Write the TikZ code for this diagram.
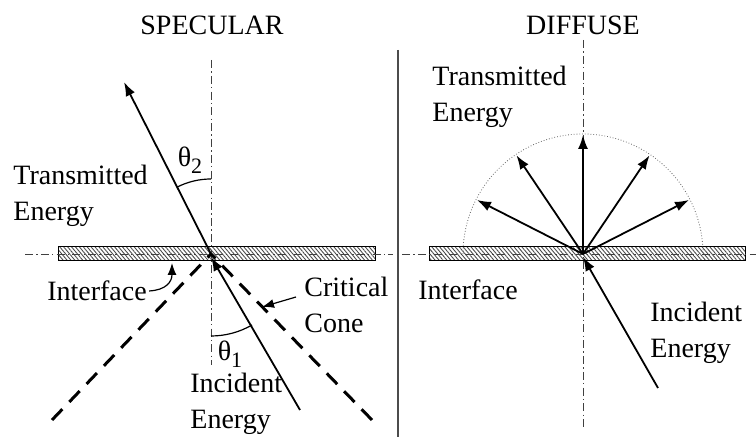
\documentclass[tikz,border=0pt]{standalone}
\usepackage{fontspec}
\setmainfont{Liberation Serif}
\usetikzlibrary{arrows.meta,positioning,patterns.meta}
\newcommand{\thetasub}[1]{θ\raisebox{-0.55ex}{\fontsize{11}{11}\selectfont #1}}
\tikzset{
  axisline/.style={black!75, line width=0.45pt, dash pattern=on 4pt off 1.6pt on 0.7pt off 1.6pt},
  ray/.style={-{Latex[length=7pt,width=5pt]}, line width=0.9pt},
  cone/.style={line width=1.5pt, dash pattern=on 7.5pt off 5pt},
  pointer/.style={-{Latex[length=6pt,width=4.5pt]}, line width=0.6pt},
  slab/.style={draw=black, line width=0.5pt, pattern={Lines[angle=-50, distance=1.5pt, line width=0.45pt]}, pattern color=black!70},
  hemi/.style={black!60, line width=0.4pt, densely dotted},
  lbl/.style={font=\fontsize{14}{18}\selectfont, inner sep=1pt},
  multilbl/.style={lbl, align=left, anchor=west}
}

\begin{document}
\begin{tikzpicture}[x=0.5pt, y=-0.5pt]
  \useasboundingbox (0,0) rectangle (756,437);

  % hit points on the interface
  \coordinate (hitL) at (211,254);
  \coordinate (hitR) at (583,254);

  % interface slabs
  \filldraw[slab] (58,247) rectangle (375,261);
  \filldraw[slab] (429,247) rectangle (745,261);

  % symmetry axes
  \draw[axisline] (25,254) -- (393,254);
  \draw[axisline] (402,254) -- (756,254);
  \draw[axisline] (211,60) -- (211,365);
  \draw[axisline] (583,40) -- (583,430);

  % panel separator
  \draw[black!70, line width=0.8pt] (398,50) -- (398,437);

  % titles
  \node[lbl] (spec) at (212,25) {SPECULAR};
  \node[lbl] (diff) at (583,25) {DIFFUSE};

  %% specular side
  \coordinate (transTip) at (124,82);
  \coordinate (incL) at (300,410);
  \coordinate (coneA) at (52,420);
  \coordinate (coneB) at (372,420);
  \draw[cone] (coneA) -- (hitL);
  \draw[cone] (coneB) -- (hitL);
  \draw[ray] (hitL) -- (transTip);
  \draw[ray] (incL) -- (211,257);
  \draw[line width=0.6pt] (211,179) arc[start angle=270, end angle=243, radius=75];
  \draw[line width=0.6pt] (211,336) arc[start angle=90, end angle=60, radius=82];
  \node[lbl] (th2) at (190,160) {\thetasub{2}};
  \node[lbl] (th1) at (230,354) {\thetasub{1}};

  \node[multilbl] (transL) at (11,196) {Transmitted\\Energy};
  \node[lbl] (ifaceL) at (97,291) {Interface};
  \draw[pointer] (ifaceL.east) .. controls (166,290) and (172,282) .. (172,263);
  \node[multilbl] (crit) at (302,305) {Critical\\Cone};
  \coordinate (critTail) at (296,297);
  \coordinate (critHead) at (262,307);
  \draw[pointer] (critTail) -- (critHead);
  \node[multilbl] (incLbl) at (188,404) {Incident\\Energy};

  %% diffuse side
  \draw[hemi] (463,254) arc[start angle=180, end angle=360, radius=120];
  \foreach \a in {207,236,270,304,333}
    \draw[ray] (hitR) -- ++(\a:119);
  \coordinate (incR) at (658,388);
  \draw[ray] (incR) -- (583,257);

  \node[multilbl] (transR) at (430,97) {Transmitted\\Energy};
  \node[lbl] (ifaceR) at (468,290) {Interface};
  \node[multilbl] (incRLbl) at (648,333) {Incident\\Energy};
\end{tikzpicture}
\end{document}
